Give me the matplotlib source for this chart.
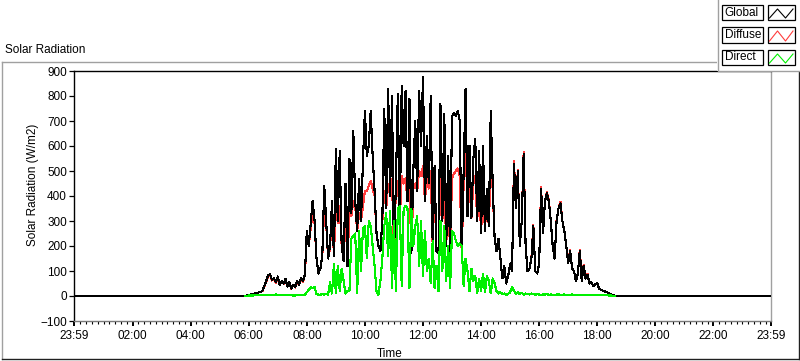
import matplotlib
matplotlib.use("Agg")
import matplotlib.pyplot as plt
from matplotlib.lines import Line2D
from matplotlib.patches import Rectangle

plt.rcParams['font.family'] = ['Liberation Sans', 'DejaVu Sans']

# samples every 4 minutes, first one at 05:48
first_sample = (5, 48)
step_min = 4

global_wm2 = [
    0, 0, 2, 4, 6, 8, 10, 12, 14, 16,
    20, 38, 60, 82, 87, 65, 72, 55, 78, 45,
    60, 50, 68, 38, 55, 30, 45, 35, 60, 45,
    70, 60, 85, 260, 200, 290, 380, 300, 150, 90,
    110, 160, 440, 300, 150, 200, 380, 160, 590, 300,
    580, 200, 140, 450, 120, 550, 330, 660, 380, 260,
    470, 300, 540, 740, 560, 600, 740, 560, 420, 250,
    200, 180, 300, 750, 350, 830, 400, 800, 160, 450,
    810, 300, 840, 600, 820, 380, 790, 170, 500, 700,
    420, 820, 600, 877, 380, 640, 450, 800, 200, 520,
    180, 170, 770, 300, 730, 200, 560, 170, 720, 730,
    720, 740, 700, 170, 500, 830, 320, 600, 310, 550,
    630, 300, 580, 250, 600, 260, 430, 280, 740, 450,
    230, 180, 230, 150, 70, 120, 50, 80, 130, 100,
    530, 350, 500, 200, 300, 570, 200, 100, 110, 150,
    280, 100, 90, 130, 430, 250, 380, 410, 380, 300,
    200, 150, 300, 350, 370, 300, 260, 200, 130, 180,
    110, 100, 60, 90, 180, 60, 120, 70, 85, 50,
    55, 40, 48, 50, 30, 25, 20, 18, 15, 10,
    7, 4, 2, 0, 0, 0, 0,
]

diffuse_wm2 = [
    0, 0, 2, 4, 6, 8, 10, 12, 14, 16,
    19, 36, 57, 78, 84, 62, 70, 53, 74, 44,
    58, 49, 66, 37, 53, 29, 44, 34, 57, 44,
    68, 58, 82, 250, 200, 270, 330, 290, 150, 90,
    110, 160, 360, 290, 150, 190, 340, 160, 380, 290,
    360, 200, 140, 330, 120, 350, 320, 380, 360, 260,
    330, 300, 360, 420, 420, 440, 460, 430, 400, 250,
    200, 180, 300, 420, 350, 450, 400, 470, 160, 430,
    460, 300, 480, 450, 470, 380, 460, 170, 430, 450,
    420, 500, 480, 520, 380, 470, 430, 500, 200, 430,
    180, 170, 470, 300, 460, 200, 420, 170, 470, 490,
    500, 510, 480, 170, 450, 640, 320, 460, 310, 450,
    480, 300, 450, 250, 430, 260, 400, 280, 520, 430,
    230, 180, 230, 150, 70, 120, 50, 80, 130, 100,
    540, 350, 505, 200, 300, 578, 200, 100, 110, 150,
    285, 100, 90, 130, 436, 250, 380, 416, 385, 300,
    200, 150, 305, 350, 376, 300, 260, 200, 130, 184,
    110, 100, 60, 90, 186, 60, 124, 70, 88, 50,
    55, 40, 48, 50, 30, 25, 20, 18, 15, 10,
    7, 4, 2, 0, 0, 0, 0,
]

direct_wm2 = [
    0, 0, 1, 2, 2, 2, 3, 3, 3, 3,
    3, 3, 3, 3, 4, 5, 5, 6, 5, 5,
    4, 3, 3, 3, 3, 3, 2, 2, 3, 3,
    3, 4, 5, 15, 25, 35, 30, 35, 8, 5,
    5, 8, 6, 10, 5, 55, 10, 130, 10, 120,
    20, 110, 60, 10, 20, 20, 230, 240, 250, 10,
    260, 100, 270, 280, 150, 300, 280, 200, 120, 20,
    5, 60, 150, 280, 330, 160, 340, 30, 300, 20,
    350, 360, 40, 350, 360, 350, 30, 350, 200, 280,
    320, 120, 300, 80, 260, 100, 150, 50, 220, 30,
    120, 20, 300, 100, 280, 60, 200, 30, 260, 250,
    220, 200, 210, 200, 40, 150, 100, 20, 110, 60,
    80, 10, 70, 20, 90, 15, 80, 60, 10, 70,
    50, 20, 10, 15, 8, 10, 5, 8, 15, 35,
    20, 10, 15, 8, 12, 5, 10, 8, 6, 10,
    7, 5, 8, 6, 4, 7, 5, 8, 4, 6,
    5, 3, 6, 7, 4, 5, 6, 3, 5, 4,
    6, 3, 4, 5, 3, 4, 4, 5, 3, 4,
    3, 4, 4, 3, 4, 3, 3, 4, 3, 2,
    2, 1, 1, 0, 0, 0, 0,
]

tick_labels = ["23:59", "02:00", "04:00", "06:00", "08:00", "10:00", "12:00",
               "14:00", "16:00", "18:00", "20:00", "22:00", "23:59"]

series_names = ["Global", "Diffuse", "Direct"]
series_colors = ["#000000", "#ff3c3c", "#00f000"]

W, H = 800, 361


def fx(px):
    return px / W


def fy(py):
    return 1 - py / H


# x axis = minutes since 23:59 of the previous day
t0 = first_sample[0] * 60 + first_sample[1] + 1
day_t = [t0 + step_min * i for i in range(len(global_wm2))]
t_full = [0] + day_t + [1440]

# night zeros only for global/diffuse, direct trace only covers daytime
curves = {
    "Global": (t_full, [0] + global_wm2 + [0], 3),
    "Diffuse": (t_full, [0] + diffuse_wm2 + [0], 2),
    "Direct": (day_t[1:-4], direct_wm2[1:-4], 4),
}

fig = plt.figure(figsize=(8, 3.61), dpi=100)
fig.patch.set_facecolor("white")
ax = fig.add_axes([fx(74), fy(321), fx(771) - fx(74), fy(71) - fy(321)])

for name, col in zip(series_names, series_colors):
    tx, vals, z = curves[name]
    ax.plot(tx, vals, color=col, lw=0.8, zorder=z, antialiased=False)

ax.set_xlim(0, 1440)
ax.set_ylim(-100, 900)
ax.set_yticks(range(-100, 901, 100))
major = [0] + [h * 60 + 1 for h in range(2, 23, 2)] + [1440]
ax.set_xticks(major)
ax.set_xticklabels(tick_labels)
ax.set_xticks([1 + 12 * k for k in range(120) if (1 + 12 * k) % 120 != 1], minor=True)

ax.spines["top"].set_color("black")
ax.spines["left"].set_color("black")
ax.spines["right"].set_color("#a0a0a0")
ax.spines["bottom"].set_color("#7a7a7a")
for s in ax.spines.values():
    s.set_linewidth(1.0)

ax.tick_params(axis="y", direction="out", length=3.6, width=0.9, pad=1.5,
               labelsize=8.5, colors="black")
ax.tick_params(axis="x", which="major", direction="out", length=3.8, width=1.4,
               pad=3, labelsize=8.5, colors="black")
ax.tick_params(axis="x", which="minor", direction="out", length=2.4, width=0.8,
               colors="black")

fig.text(fx(5), fy(50), "Solar Radiation", fontsize=8.5, va="center", ha="left")
fig.text(fx(33), fy(185), "Solar Radiation (W/m2)", fontsize=8.5, rotation=90,
         va="center", ha="center")
fig.text(fx(390), fy(354), "Time", fontsize=8.5, va="center", ha="center")

# outer chart frame
frame = [
    ((1.5, 61.5), (717, 61.5), "#a0a0a0"),
    ((1.5, 61.5), (1.5, 358.5), "#a0a0a0"),
    ((1.5, 358.5), (798.5, 358.5), "#202020"),
    ((798.5, 71), (798.5, 358.5), "#202020"),
]
for (x0, y0), (x1, y1), c in frame:
    fig.add_artist(Line2D([fx(x0), fx(x1)], [fy(y0), fy(y1)], color=c, lw=1.0,
                          transform=fig.transFigure))

# legend panel
fig.add_artist(Rectangle((fx(717), fy(71)), fx(800) - fx(717), fy(0) - fy(71),
                         transform=fig.transFigure, facecolor="white",
                         edgecolor="none", zorder=5))
fig.add_artist(Line2D([fx(717.5), fx(717.5), fx(800)], [fy(0), fy(71), fy(71)],
                      color="#a0a0a0", lw=1.0, transform=fig.transFigure, zorder=6))

rows = [(5, 20), (27, 43), (50, 65)]
for (top, bot), name, col in zip(rows, series_names, series_colors):
    fig.add_artist(Rectangle((fx(722), fy(bot)), fx(763) - fx(722), fy(top) - fy(bot),
                             transform=fig.transFigure, facecolor="white",
                             edgecolor="black", lw=0.9, zorder=7))
    fig.text(fx(724.5), fy((top + bot) / 2), name, fontsize=8.5, va="center",
             ha="left", zorder=8)
    fig.add_artist(Rectangle((fx(768), fy(bot)), fx(794.5) - fx(768), fy(top) - fy(bot),
                             transform=fig.transFigure, facecolor="white",
                             edgecolor="black", lw=0.9, zorder=7))
    zx = [769.5, 777.5, 785.5, 793]
    zy = [bot - 2, top + 4, bot - 2, top + 4]
    fig.add_artist(Line2D([fx(v) for v in zx], [fy(v) for v in zy], color=col,
                          lw=0.8, transform=fig.transFigure, zorder=8))

fig.savefig("out.png", dpi=100)
